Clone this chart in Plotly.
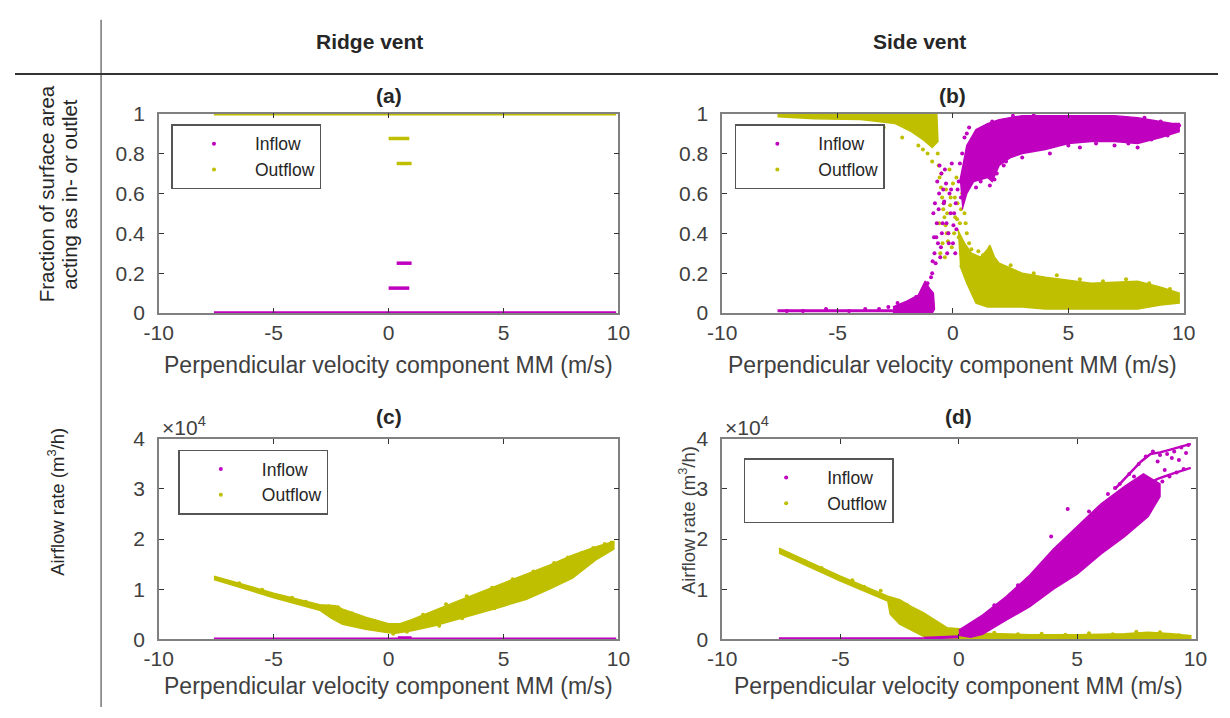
import plotly.graph_objects as go

W, H = 1230, 718
MAG = "#BF00BF"
OLV = "#BFBF00"

# ---------------- data ----------------
# (a) ridge vent fraction: long flat runs and short segments (x, y), None separates runs
a_in_x = [-7.6, 9.9, None, 0.35, 1.0, None, 0.0, 0.9]
a_in_y = [0.0, 0.0, None, 0.25, 0.25, None, 0.125, 0.125]
a_out_x = [-7.6, 9.9, None, 0.0, 0.9, None, 0.35, 1.0]
a_out_y = [1.0, 1.0, None, 0.875, 0.875, None, 0.75, 0.75]

# (b) side vent fraction
b_in_core_x = [0.3, 0.6, 1.0, 1.5, 2.0, 2.5, 3.0, 4.0, 5.0, 6.0, 7.0, 8.0, 8.5, 9.0, 9.5, 9.8,
               9.8, 9.0, 8.0, 7.0, 6.0, 5.0, 4.0, 3.0, 2.5, 2.0, 1.7, 1.5, 1.2, 0.9, 0.6, 0.4]
b_in_core_y = [0.66, 0.84, 0.92, 0.95, 0.97, 0.98, 0.99, 0.99, 0.99, 0.99, 0.99, 0.98, 0.97, 0.96, 0.95, 0.95,
               0.91, 0.88, 0.85, 0.86, 0.86, 0.85, 0.82, 0.80, 0.78, 0.74, 0.66, 0.68, 0.67, 0.66, 0.60, 0.52]
b_in_low_x = [-2.6, -2.0, -1.5, -1.2, -1.0, -0.85, -0.8, -0.9, -1.2, -2.0, -2.6]
b_in_low_y = [0.03, 0.06, 0.09, 0.16, 0.12, 0.10, 0.02, 0.0, 0.0, 0.0, 0.0]
b_in_tail_x = [-7.6, -2.6]
b_in_tail_y = [0.012, 0.012]
b_in_pts_x = [0.2, 0.3, 0.4, 0.5, 0.6, 0.7, 0.8, 1.0, 1.2, 1.4, 1.6, 1.8, 1.7, 2.2, 2.6, 3.0, 3.5, 4.2,
              5.0, 5.5, 6.2, 7.0, 7.6, 8.0, 8.3, 8.6, 9.0, 9.3, 9.6, 9.8, -0.9, -0.8, -0.7, -0.6,
              -0.5, -0.4, -0.3, -0.2, -0.1, 0.0, 0.1, -0.85, -0.75, -0.65, -0.55, -0.45, -0.35,
              -0.25, -0.15, -0.05, 0.05, 0.15, 0.25, -1.1, -1.3, -1.6, -2.0, -2.4, -2.8, -3.2,
              -3.8, -4.5, -5.5, -6.5, -7.2, -0.72, -0.62, -0.52, -0.42, 0.35, 0.45, 1.9, 2.3,
              -0.95, -0.88, -0.82, -0.78, -0.68, -0.58, -0.48, -0.38, -0.28, -0.18, -0.08, 0.02, 0.12]
b_in_pts_y = [0.62, 0.75, 0.80, 0.88, 0.90, 0.93, 0.72, 0.63, 0.66, 0.70, 0.64, 0.67, 0.96, 0.74, 0.99,
              0.78, 1.0, 0.80, 0.84, 0.83, 0.85, 0.84, 0.85, 0.83, 0.98, 0.87, 0.96, 0.89, 0.93, 0.94,
              0.20, 0.30, 0.45, 0.60, 0.70, 0.55, 0.65, 0.40, 0.50, 0.35, 0.30, 0.50, 0.25, 0.35,
              0.28, 0.45, 0.72, 0.30, 0.60, 0.75, 0.50, 0.42, 0.66, 0.15, 0.10, 0.08, 0.04, 0.05,
              0.03, 0.02, 0.02, 0.01, 0.02, 0.01, 0.01, 0.38, 0.52, 0.33, 0.62, 0.58, 0.68, 0.70, 0.76,
              0.18, 0.26, 0.38, 0.55, 0.66, 0.74, 0.40, 0.56, 0.45, 0.35, 0.62, 0.44, 0.55]

b_out_top_x = [-7.6, -0.7, -0.65, -0.9, -1.3, -1.8, -2.5, -4.0, -6.0, -7.6]
b_out_top_y = [1.0, 1.0, 0.86, 0.83, 0.87, 0.91, 0.95, 0.97, 0.975, 0.985]
b_out_low_x = [0.2, 0.5, 0.8, 1.2, 1.5, 1.6, 1.8, 2.0, 3.0, 4.0, 6.0, 8.0, 9.0, 9.8,
               9.8, 9.0, 8.0, 6.0, 4.0, 3.0, 2.0, 1.5, 1.0, 0.6, 0.3]
b_out_low_y = [0.42, 0.35, 0.30, 0.28, 0.32, 0.34, 0.28, 0.25, 0.20, 0.18, 0.15, 0.16, 0.13, 0.10,
               0.05, 0.04, 0.02, 0.02, 0.02, 0.03, 0.03, 0.03, 0.05, 0.15, 0.24]
b_out_pts_x = [-0.6, -0.5, -0.4, -0.3, -0.2, -0.1, 0.0, 0.1, 0.2, 0.3, 0.4, 0.5, 0.6, 0.7, 0.8,
               -0.55, -0.45, -0.35, -0.25, -0.15, -0.05, 0.05, 0.15, 0.25, 0.35, 0.45, 0.55,
               -1.5, -1.3, -1.1, -0.9, -2.2, -3.0, 2.5, 3.5, 4.5, 5.5, 6.5, 7.5, 8.5, 9.4, 9.7, 1.1, 1.3,
               -0.66, -0.62, -0.58, -0.52, -0.47, -0.42, -0.37, -0.32, -0.27, -0.22, -0.12, 0.08, 0.18]
b_out_pts_y = [0.45, 0.70, 0.55, 0.62, 0.40, 0.58, 0.65, 0.48, 0.55, 0.45, 0.60, 0.50, 0.40, 0.35, 0.32,
               0.30, 0.35, 0.28, 0.50, 0.72, 0.33, 0.40, 0.68, 0.38, 0.52, 0.30, 0.45,
               0.84, 0.82, 0.80, 0.76, 0.88, 0.93, 0.24, 0.20, 0.19, 0.17, 0.16, 0.17, 0.15, 0.12, 0.08, 0.31, 0.29,
               0.80, 0.74, 0.68, 0.63, 0.58, 0.52, 0.48, 0.44, 0.40, 0.36, 0.54, 0.58, 0.47]

# (c) ridge vent airflow rate (m3/h)
c_out_core_x = [-7.6, -5.0, -3.0, -2.3, -2.0, -1.0, 0.0, 0.5, 1.0, 2.0, 3.0, 4.0, 5.0, 6.0, 7.0, 8.0, 9.0, 9.8,
                9.8, 9.0, 8.0, 7.0, 6.0, 5.0, 4.0, 3.0, 2.0, 1.0, 0.3, 0.0, -1.0, -2.0, -2.5, -3.0, -5.0, -7.6]
c_out_core_y = [12600, 9200, 6900, 6700, 6000, 4400, 3100, 3100, 3900, 5800, 7600, 9400, 11200, 13000, 14800,
                16800, 18400, 19500, 18000, 15800, 12200, 10000, 8000, 6600, 5300, 3900, 2700, 1700, 1200, 1300,
                2000, 3000, 4200, 5800, 8300, 11900]
c_out_pts_x = [-6.5, -5.5, -4.2, -3.6, -2.6, -2.2, -1.6, -0.6, 0.2, 0.8, 1.5, 2.5, 3.4, 4.5, 5.4, 6.3, 7.2,
               7.8, 8.4, 8.9, 9.4, 9.7, 2.2, 3.2, 4.6, 6.8, 7.5, 8.6]
c_out_pts_y = [11200, 9900, 8300, 7500, 6600, 6400, 5200, 3600, 1100, 1500, 4900, 7000, 8600, 10300, 12000,
               13500, 15200, 16300, 17200, 18200, 19000, 19300, 2700, 4200, 6200, 10300, 12800, 15500]
c_in_x = [-7.6, 9.9, None, 0.4, 1.0]
c_in_y = [0.0, 0.0, None, 250.0, 250.0]

# (d) side vent airflow rate (m3/h)
d_in_core_x = [0.0, 1.0, 2.0, 3.0, 4.0, 5.0, 6.0, 7.0, 7.8, 8.5,
               8.5, 8.0, 7.0, 6.0, 5.0, 4.0, 3.0, 2.0, 1.0, 0.5, 0.0]
d_in_core_y = [1800, 4800, 8500, 12800, 18000, 22500, 27000, 30500, 33000, 31000,
               28500, 24500, 20500, 17000, 13000, 10000, 6500, 3800, 1000, 400, 800]
d_in_streak_x = [6.6, 7.2, 7.7, 8.1, 8.5, 8.9, 9.3, 9.8, None, 7.8, 8.4, 9.0, 9.5, 9.8]
d_in_streak_y = [30000, 33000, 35500, 37000, 37300, 37800, 38400, 39000, None, 30500, 32000, 33000, 33800, 34200]
d_in_pts_x = [6.3, 6.8, 7.2, 7.6, 7.9, 8.2, 8.5, 8.8, 9.1, 9.4, 9.7, 8.6, 8.9, 9.2, 9.5,
              7.5, 8.0, 3.9, 4.6, 9.0, 8.4, 7.0, 9.6, 9.3, 8.7, 7.4, 6.6, 5.5, 2.5, 1.5]
d_in_pts_y = [29000, 31000, 33000, 35000, 36500, 37500, 36800, 37000, 37500, 38300, 38800, 31500,
              32500, 33300, 34000, 30000, 31000, 20500, 26000, 36200, 35500, 27500, 37200, 35800, 33800,
              32500, 30200, 25500, 10800, 6800]
d_in_tail_x = [-7.6, -1.5, None, -1.5, 0.0]
d_in_tail_y = [100.0, 100.0, None, 200.0, 500.0]

d_out_core_x = [-7.6, -5.0, -3.0, -2.5, -2.0, -1.5, -1.0, -0.5, 0.0, 0.5, 1.0, 3.0, 5.0, 7.0, 8.0, 9.0, 9.8,
                9.8, 5.0, 1.0, 0.0, -0.5, -1.5, -2.5, -2.9, -3.0, -5.0, -7.6]
d_out_core_y = [18200, 12600, 8600, 7900, 6500, 5300, 3800, 2300, 2100, 1700, 1200, 900, 900, 1100, 1400, 1100, 700,
                100, 100, 100, 200, 0, 600, 3000, 5000, 7600, 11600, 17200]
d_out_pts_x = [-7.2, -6.5, -5.8, -4.5, -4.0, -3.3, -2.6, -2.2, -1.8, -1.4, -1.2, -0.8, -0.5, 0.3, 1.5,
               2.5, 3.5, 4.5, 5.5, 6.5, 7.5, 8.5, 9.3]
d_out_pts_y = [17000, 15500, 14200, 11800, 10500, 9700, 7600, 6900, 5300, 4100, 3200, 2600, 1800, 1900, 1300,
               1000, 1100, 900, 1200, 1000, 1500, 1400, 800]

# ticks
x_ticks = [-10, -5, 0, 5, 10]
x_text = ["-10", "-5", "0", "5", "10"]
frac_ticks = [0, 0.2, 0.4, 0.6, 0.8, 1]
frac_text = ["0", "0.2", "0.4", "0.6", "0.8", "1"]
rate_ticks = [0, 10000, 20000, 30000, 40000]
rate_text = ["0", "1", "2", "3", "4"]

# ---------------- layout helpers ----------------
def px(x):
    return x / W

def py(y):
    return 1 - y / H

panels = {
    1: dict(x0=147, x1=617, y0=105, y1=311),
    2: dict(x0=723, x1=1195, y0=105, y1=311),
    3: dict(x0=147, x1=617, y0=441, y1=648),
    4: dict(x0=723, x1=1207, y0=441, y1=648),
}

fig = go.Figure()

def ax(n):
    return ("x" if n == 1 else f"x{n}"), ("y" if n == 1 else f"y{n}")

def poly(n, xs, ys, color):
    xa, ya = ax(n)
    fig.add_trace(go.Scatter(x=xs, y=ys, mode="lines", fill="toself", fillcolor=color,
                             line=dict(color=color, width=1.5), xaxis=xa, yaxis=ya,
                             showlegend=False, hoverinfo="skip"))

def pts(n, xs, ys, color, size=4):
    xa, ya = ax(n)
    fig.add_trace(go.Scatter(x=xs, y=ys, mode="markers", marker=dict(color=color, size=size),
                             xaxis=xa, yaxis=ya, showlegend=False, hoverinfo="skip"))

def line(n, xs, ys, color, width=3):
    xa, ya = ax(n)
    fig.add_trace(go.Scatter(x=xs, y=ys, mode="lines", line=dict(color=color, width=width),
                             xaxis=xa, yaxis=ya, showlegend=False, hoverinfo="skip", connectgaps=False))

# (a)
line(1, a_out_x, a_out_y, OLV, 3.5)
line(1, a_in_x, a_in_y, MAG, 3.5)
# (b)
poly(2, b_out_top_x, b_out_top_y, OLV)
poly(2, b_out_low_x, b_out_low_y, OLV)
pts(2, b_out_pts_x, b_out_pts_y, OLV)
poly(2, b_in_core_x, b_in_core_y, MAG)
poly(2, b_in_low_x, b_in_low_y, MAG)
line(2, b_in_tail_x, b_in_tail_y, MAG, 3)
pts(2, b_in_pts_x, b_in_pts_y, MAG)
# (c)
poly(3, c_out_core_x, c_out_core_y, OLV)
pts(3, c_out_pts_x, c_out_pts_y, OLV)
line(3, c_in_x, c_in_y, MAG, 3.5)
# (d)
poly(4, d_out_core_x, d_out_core_y, OLV)
pts(4, d_out_pts_x, d_out_pts_y, OLV)
poly(4, d_in_core_x, d_in_core_y, MAG)
line(4, d_in_streak_x, d_in_streak_y, MAG, 2.5)
pts(4, d_in_pts_x, d_in_pts_y, MAG)
line(4, d_in_tail_x, d_in_tail_y, MAG, 3)

# legend-only entries
legend_pos = {1: (160, 116), 2: (736, 116), 3: (167, 452), 4: (745, 461)}
for n in range(1, 5):
    lg = "legend" if n == 1 else f"legend{n}"
    xa, ya = ax(n)
    for name, col in (("Inflow", MAG), ("Outflow", OLV)):
        fig.add_trace(go.Scatter(x=[None], y=[None], mode="markers", name=name,
                                 marker=dict(color=col, size=4), xaxis=xa, yaxis=ya,
                                 legend=lg, showlegend=True))

FONT = "Liberation Sans, Arial, sans-serif"
TXT = "#262626"
AXC = "#808080"
TICKC = "#404040"

layout = dict(width=W, height=H, margin=dict(l=0, r=0, t=0, b=0),
              paper_bgcolor="white", plot_bgcolor="white",
              font=dict(family=FONT, color=TXT, size=20), showlegend=True)

for n, p in panels.items():
    xk = "xaxis" if n == 1 else f"xaxis{n}"
    yk = "yaxis" if n == 1 else f"yaxis{n}"
    xa, ya = ax(n)
    layout[xk] = dict(domain=[px(p["x0"]), px(p["x1"])], anchor=ya, range=[-10, 10],
                      tickvals=x_ticks, ticktext=x_text, ticks="inside", ticklen=5, tickcolor="#333",
                      showline=True, linecolor=AXC, linewidth=1.5, mirror="ticks",
                      showgrid=False, zeroline=False, tickfont=dict(size=21, color=TICKC),
                      ticklabelstandoff=0)
    if n in (1, 2):
        yr, tv, tt = [0, 1], frac_ticks, frac_text
    else:
        yr, tv, tt = [0, 40000], rate_ticks, rate_text
    layout[yk] = dict(domain=[py(p["y1"]), py(p["y0"])], anchor=xa, range=yr,
                      tickvals=tv, ticktext=tt, ticks="inside", ticklen=5, tickcolor="#333",
                      showline=True, linecolor=AXC, linewidth=1.5, mirror="ticks",
                      showgrid=False, zeroline=False, tickfont=dict(size=21, color=TICKC),
                      ticklabelstandoff=8)
    lg = "legend" if n == 1 else f"legend{n}"
    lx, ly = legend_pos[n]
    layout[lg] = dict(x=px(lx), y=py(ly), xanchor="left", yanchor="top",
                      bgcolor="white", bordercolor="#555", borderwidth=1.5,
                      font=dict(size=17.5, color=TXT), itemwidth=72, tracegroupgap=0)

fig.update_layout(**layout)

ann = []
def text(x, y, s, size=17, bold=False, angle=0, color=TXT, xanchor="center"):
    if bold:
        s = f"<b>{s}</b>"
    ann.append(dict(x=px(x), y=py(y), xref="paper", yref="paper", text=s, showarrow=False,
                    font=dict(size=size, color=color, family=FONT), textangle=angle,
                    xanchor=xanchor, yanchor="middle"))

# header
text(362, 30, "Ridge vent", 21, True)
text(925, 30, "Side vent", 21, True)
# panel titles
text(382, 86, "(a)", 21, True)
text(959, 86, "(b)", 21, True)
text(382, 418, "(c)", 21, True)
text(965, 418, "(d)", 21, True)
# x-axis titles
xt = "Perpendicular velocity component MM (m/s)"
text(382, 365, xt, 23, color=TICKC)
text(959, 365, xt, 23, color=TICKC)
text(382, 696, xt, 23, color=TICKC)
text(965, 696, xt, 23, color=TICKC)
# row labels
text(33, 188, "Fraction of surface area", 20.5, angle=-90)
text(56, 188, "acting as in- or outlet", 20.5, angle=-90)
text(42, 506, "Airflow rate (m<sup>3</sup>/h)", 18.5, angle=-90)
text(687, 525, "Airflow rate (m<sup>3</sup>/h)", 18.5, angle=-90, color=TICKC)
# exponent labels
text(148, 428, "×10<sup>4</sup>", 21, color=TICKC, xanchor="left")
text(724, 428, "×10<sup>4</sup>", 21, color=TICKC, xanchor="left")

fig.update_layout(annotations=ann)

# table rules
fig.add_shape(type="line", xref="paper", yref="paper", x0=0, x1=1, y0=py(64), y1=py(64),
              line=dict(color="#333", width=2))
fig.add_shape(type="line", xref="paper", yref="paper", x0=px(88), x1=px(88), y0=py(8), y1=0,
              line=dict(color="#333", width=1))

fig.write_html("out.html")
